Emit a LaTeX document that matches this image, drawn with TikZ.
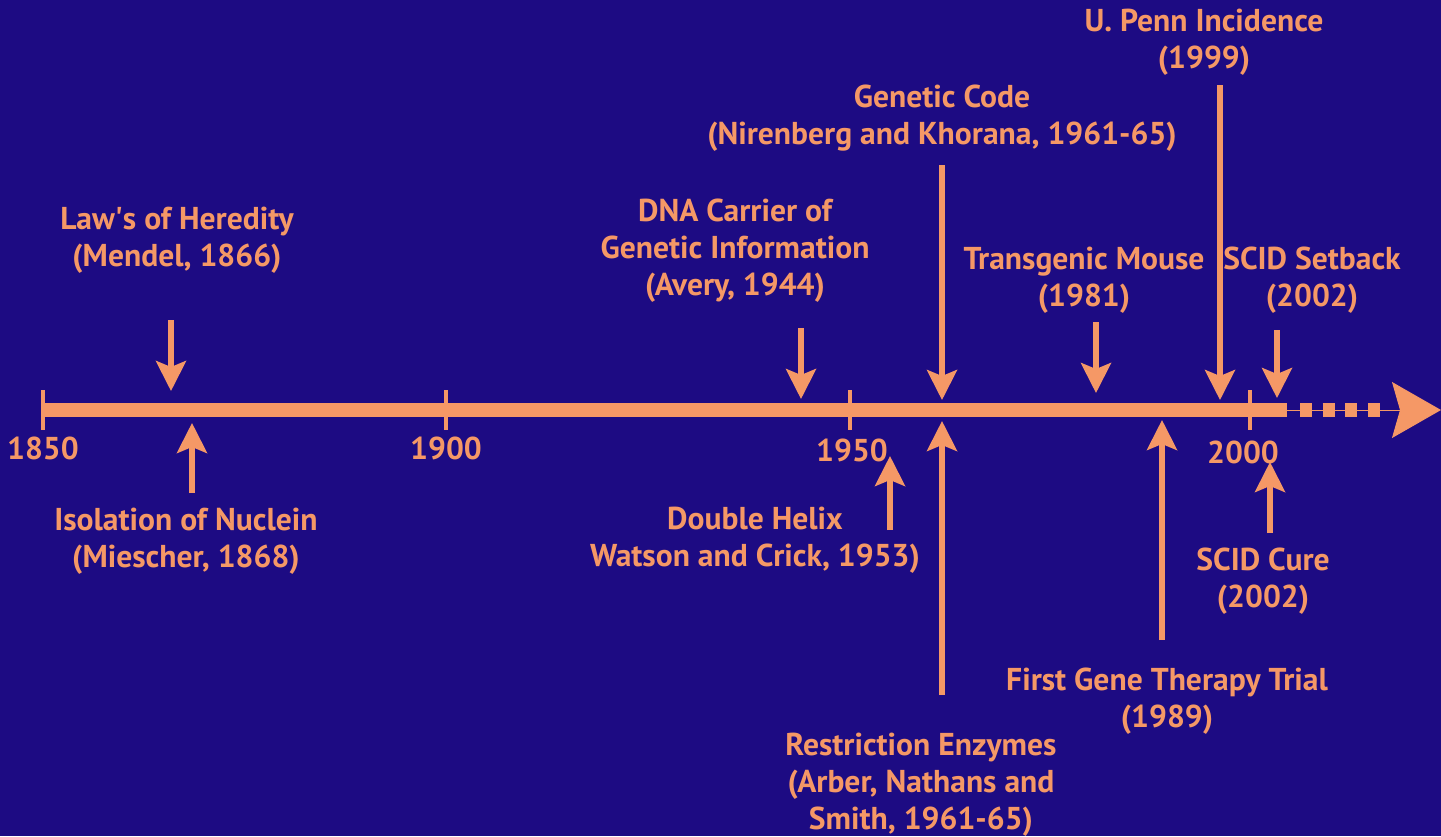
\documentclass[tikz,border=0pt]{standalone}
\usepackage{fontspec}
\setmainfont{PT Sans}
\usetikzlibrary{arrows.meta}
\definecolor{bgblue}{RGB}{29,11,131}
\definecolor{salmon}{RGB}{245,152,102}

\begin{document}
\begin{tikzpicture}[x=0.5pt, y=-0.5pt, salmon,
    event/.style={text=salmon, font=\bfseries\fontsize{15.8}{18.5}\selectfont, align=center},
    pointer/.style={line width=2.6pt, -{Stealth[length=15pt, width=15pt, inset=3pt]}},
    tickmark/.style={line width=2pt}]

    % Background
    \fill[bgblue] (0,0) rectangle (1441,836);
    \useasboundingbox (0,0) rectangle (1441,836);

    % Timeline
    \coordinate (start) at (42,410);
    \coordinate (stop) at (1287,410);
    \coordinate (tip) at (1441,410);
    \draw[line width=7pt] (start) -- (stop);
    \draw[line width=7pt, dash pattern=on 6pt off 5.3pt] (1300,410) -- (1381,410);
    \draw[line width=0.5pt, -{Stealth[length=24.5pt, width=28pt, inset=4pt]}] (stop) -- (tip);

    % Ticks and years
    \foreach \yr/\x/\lx/\ly in {1850/43/43/448, 1900/446/446/448, 1950/850/852/450, 2000/1250/1243/452} {
        \draw[tickmark] (\x,390) -- (\x,430);
        \node[event] (y\yr) at (\lx,\ly) {\yr};
    }

    % Pointers onto the timeline
    \foreach \n/\x/\ya/\yb in {mendel/171/320/391, avery/801/328/399, code/942/165/400,
        mouse/1096/322/393, penn/1220/85/400, setback/1277/330/398,
        miescher/192/493/423, helix/890/530/456, restrict/942/695/421,
        therapy/1162/640/420, cure/1270/533/462} {
        \coordinate (\n-from) at (\x,\ya);
        \coordinate (\n-to) at (\x,\yb);
        \draw[pointer] (\n-from) -- (\n-to);
    }

    % Events above the line
    \node[event] (mendel-txt) at (177,240) {Law\textquotesingle s of Heredity\\(Mendel, 1866)};
    \node[event] (avery-txt) at (735,251) {DNA Carrier of\\Genetic Information\\(Avery, 1944)};
    \node[event] (code-txt) at (942,118) {Genetic Code\\(Nirenberg and Khorana, 1961-65)};
    \node[event] (mouse-txt) at (1084,280) {Transgenic Mouse\\(1981)};
    \node[event] (penn-txt) at (1204,42) {U. Penn Incidence\\(1999)};
    \node[event] (setback-txt) at (1312,280) {SCID Setback\\(2002)};

    % Events below the line
    \node[event] (miescher-txt) at (186,541) {Isolation of Nuclein\\(Miescher, 1868)};
    \node[event] (helix-txt) at (755,540) {Double Helix\\Watson and Crick, 1953)};
    \node[event] (restrict-txt) at (921,785) {Restriction Enzymes\\(Arber, Nathans and\\Smith, 1961-65)};
    \node[event] (therapy-txt) at (1167,701) {First Gene Therapy Trial\\(1989)};
    \node[event] (cure-txt) at (1263,581) {SCID Cure\\(2002)};
\end{tikzpicture}
\end{document}
